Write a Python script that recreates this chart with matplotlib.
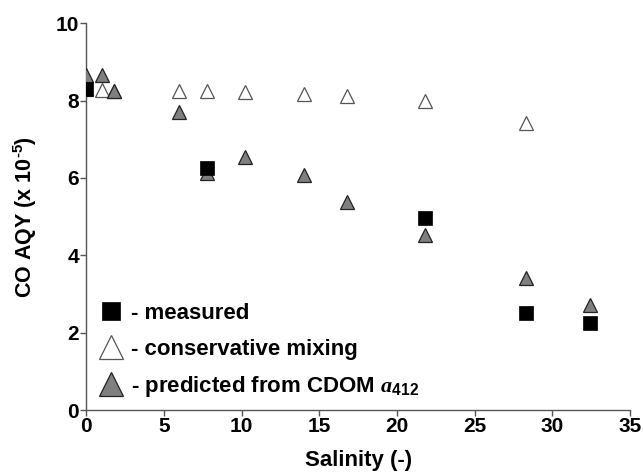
import matplotlib
matplotlib.use("Agg")
import matplotlib.pyplot as plt

plt.rcParams['font.family'] = ['Liberation Sans', 'DejaVu Sans']
plt.rcParams['font.weight'] = 'bold'
plt.rcParams['mathtext.fontset'] = 'custom'
plt.rcParams['mathtext.rm'] = 'Liberation Sans:bold'
plt.rcParams['mathtext.bf'] = 'Liberation Sans:bold'
plt.rcParams['mathtext.it'] = 'Liberation Serif:italic:bold'
plt.rcParams['mathtext.default'] = 'bf'

# measured CO AQY
sal_meas = [0.0, 7.8, 21.8, 28.3, 32.4]
aqy_meas = [8.3, 6.25, 4.97, 2.5, 2.25]

# conservative mixing
sal_cons = [0.0, 1.0, 1.8, 6.0, 7.8, 10.2, 14.0, 16.8, 21.8, 28.3]
aqy_cons = [8.3, 8.27, 8.25, 8.25, 8.24, 8.22, 8.17, 8.12, 7.99, 7.42]

# predicted from CDOM a412
sal_pred = [0.0, 1.0, 1.8, 6.0, 7.8, 10.2, 14.0, 16.8, 21.8, 28.3, 32.4]
aqy_pred = [8.66, 8.66, 8.25, 7.7, 6.13, 6.54, 6.08, 5.38, 4.53, 3.41, 2.72]

labels = ['- measured', '- conservative mixing',
          r'- predicted from CDOM $\mathit{a}_{412}$']

fig = plt.figure(figsize=(6.43, 4.73), dpi=100)
ax = fig.add_axes([0.134, 0.133, 0.846, 0.818])

ax.plot(sal_cons, aqy_cons, '^', ms=10, mfc='white', mec='#555555', mew=0.9,
        label=labels[1], zorder=3)
ax.plot(sal_pred, aqy_pred, '^', ms=10, mfc='#7f7f7f', mec='#222222', mew=0.9,
        label=labels[2], zorder=4)
ax.plot(sal_meas, aqy_meas, 's', ms=10.5, mfc='black', mec='black', mew=0.5,
        label=labels[0], zorder=5)

ax.set_xlim(0, 35)
ax.set_ylim(0, 10)
ax.set_xticks(range(0, 36, 5))
ax.set_yticks(range(0, 11, 2))
for s in ['top', 'right']:
    ax.spines[s].set_visible(False)
for s in ['left', 'bottom']:
    ax.spines[s].set_color('#555555')
    ax.spines[s].set_linewidth(1.0)
ax.tick_params(direction='out', length=4, width=1, color='#555555',
               labelsize=15, pad=1)
for lab in ax.get_xticklabels() + ax.get_yticklabels():
    lab.set_fontweight('bold')

ax.set_xlabel('Salinity (-)', fontsize=16, fontweight='bold', labelpad=10)
ax.set_ylabel(r'CO AQY (x 10$^{\text{-}5}$)', fontsize=15.5, fontweight='bold',
              labelpad=12)

h, l = ax.get_legend_handles_labels()
order = [2, 0, 1]
leg = ax.legend([h[i] for i in order], [l[i] for i in order], loc='lower left',
                frameon=False, handletextpad=0.25,
                labelspacing=0.65, fontsize=16, borderaxespad=0.2,
                handlelength=1.25, borderpad=0.3)
for t in leg.get_texts():
    t.set_fontweight('bold')
leg_sizes = [13, 17, 17]
for hd, sz in zip(leg.legend_handles, leg_sizes):
    hd.set_markersize(sz)

fig.savefig('out.png', dpi=100)
